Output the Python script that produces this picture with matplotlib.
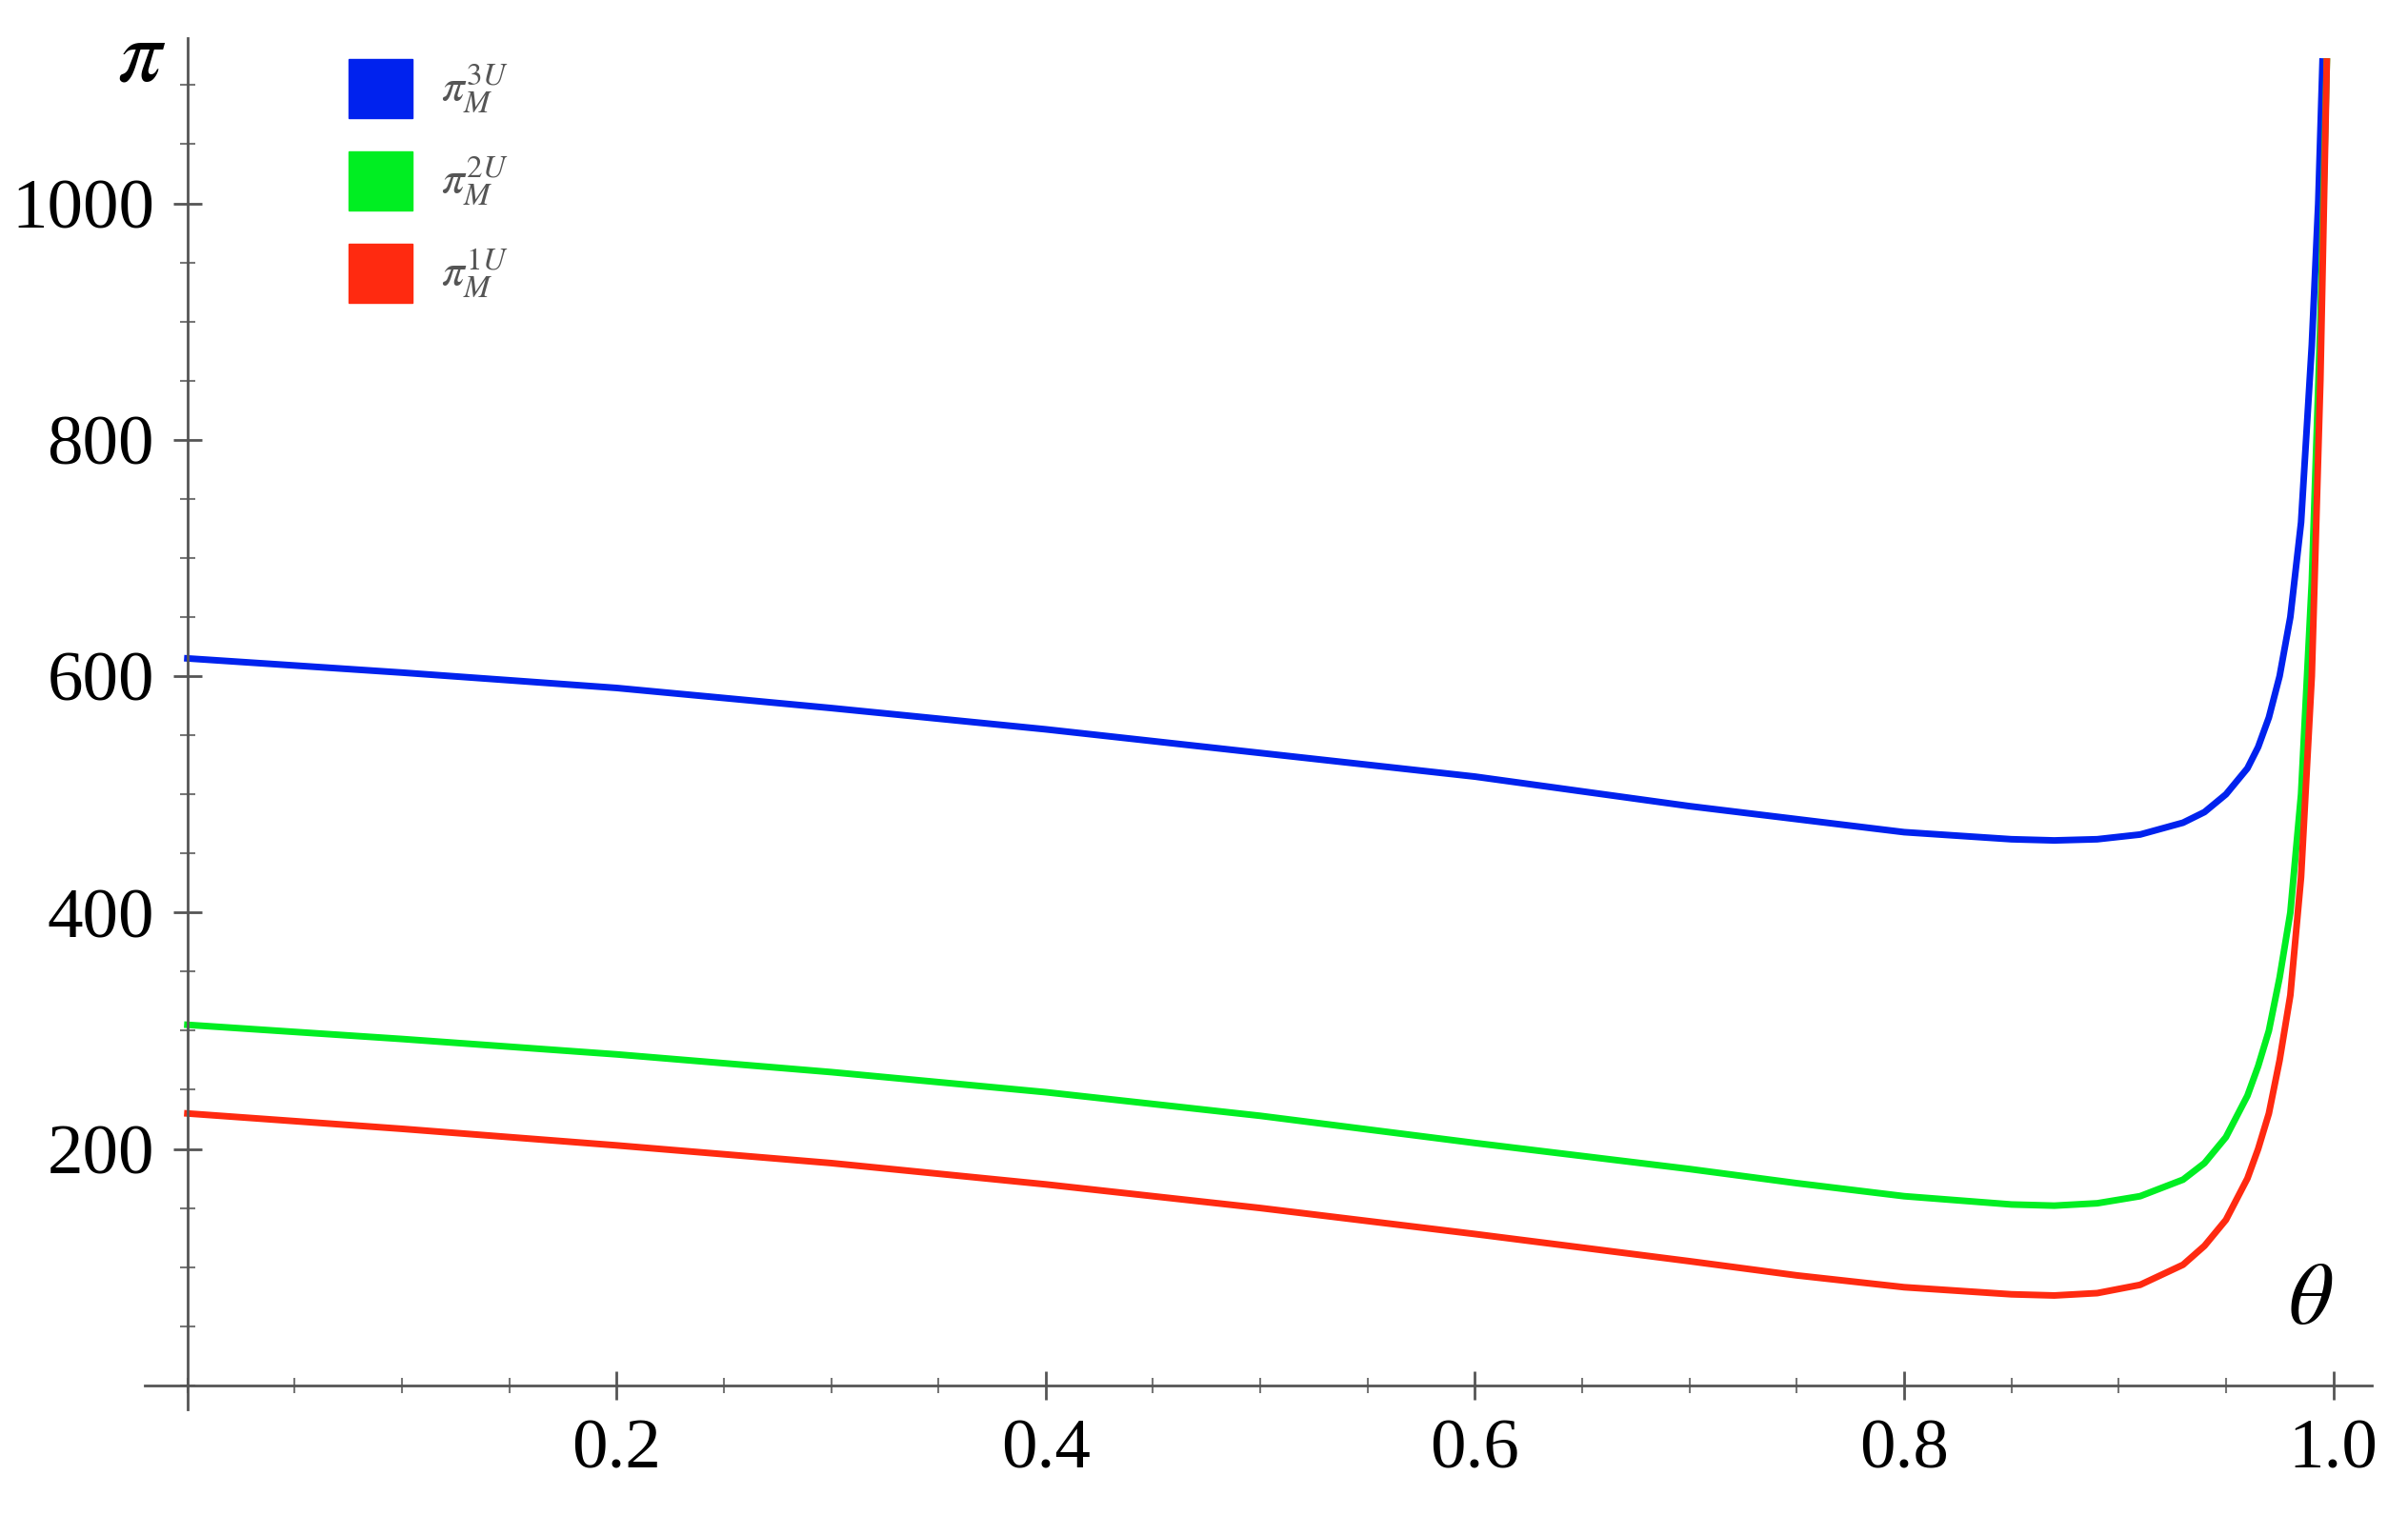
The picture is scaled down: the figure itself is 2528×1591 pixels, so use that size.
import matplotlib
matplotlib.use("Agg")
import matplotlib.pyplot as plt
from matplotlib.patches import Rectangle
from matplotlib.ticker import MultipleLocator

theta = [0.0, 0.1, 0.2, 0.3, 0.4, 0.5, 0.6, 0.7, 0.75, 0.8, 0.85, 0.87, 0.89, 0.91, 0.93, 0.94, 0.95, 0.96, 0.965, 0.97, 0.975, 0.98, 0.985, 0.99, 0.993, 0.995]
pi3 = [615, 603, 590, 573, 555, 535, 515, 490, 479, 468, 462, 461, 462, 466, 476, 485, 500, 522, 540, 565, 600, 650, 730, 880, 1000, 1120]
theta_g = [0.0, 0.1, 0.2, 0.3, 0.4, 0.5, 0.6, 0.7, 0.75, 0.8, 0.85, 0.87, 0.89, 0.91, 0.93, 0.94, 0.95, 0.96, 0.965, 0.97, 0.975, 0.98, 0.985, 0.99, 0.994, 0.997]
pi2 = [305, 293, 280, 265, 248, 228, 205, 183, 171, 160, 153, 152, 154, 160, 174, 188, 210, 245, 270, 300, 345, 400, 500, 680, 900, 1120]
pi1 = [230, 217, 203, 188, 170, 150, 128, 105, 93, 83, 77, 76, 78, 85, 102, 118, 140, 175, 200, 230, 275, 330, 430, 600, 850, 1120]
y_ticks = [200, 400, 600, 800, 1000]
x_ticks = [0.2, 0.4, 0.6, 0.8, 1.0]
labels = [r"$\pi_M^{3U}$", r"$\pi_M^{2U}$", r"$\pi_M^{1U}$"]
colors = ["#0022ee", "#00ee22", "#ff2a10"]

plt.rcParams["font.family"] = ["Liberation Serif", "DejaVu Serif"]
plt.rcParams["mathtext.fontset"] = "stix"
fig = plt.figure(figsize=(25.28, 15.91), dpi=100)
ax = fig.add_axes([0.06, 0.07, 0.925, 0.905])
ax.set_xlim(-0.02, 1.018)
ax.set_ylim(-20, 1140)
for s in ["top", "right"]:
    ax.spines[s].set_visible(False)
ax.spines["left"].set_position(("data", 0))
ax.spines["bottom"].set_position(("data", 0))
for s in ["left", "bottom"]:
    ax.spines[s].set_color("#555555")
    ax.spines[s].set_linewidth(2)

ax.plot(theta, pi3, color=colors[0], lw=5)
ax.plot(theta_g, pi2, color=colors[1], lw=5)
ax.plot(theta_g, pi1, color=colors[2], lw=5)

ax.set_xticks(x_ticks)
ax.set_xticklabels(["%.1f" % v for v in x_ticks])
ax.set_yticks(y_ticks)
ax.xaxis.set_minor_locator(MultipleLocator(0.05))
ax.yaxis.set_minor_locator(MultipleLocator(50))
ax.tick_params(which="major", direction="inout", length=22, width=2, color="#555555", labelsize=54, pad=14)
ax.tick_params(which="minor", direction="inout", length=12, width=1.5, color="#777777")

ax.text(-0.01, 1122, r"$\pi$", fontsize=66, ha="right", va="center")
ax.text(1.0, 70, r"$\theta$", fontsize=66, ha="right", va="center")

for i, (lab, c) in enumerate(zip(labels, colors)):
    y0 = 1072 - i * 78
    ax.add_patch(Rectangle((0.075, y0), 0.03, 50, color=c, clip_on=False))
    ax.text(0.118, y0 + 25, lab, fontsize=34, color="#555555", va="center")

fig.savefig("out.png", dpi=100)
